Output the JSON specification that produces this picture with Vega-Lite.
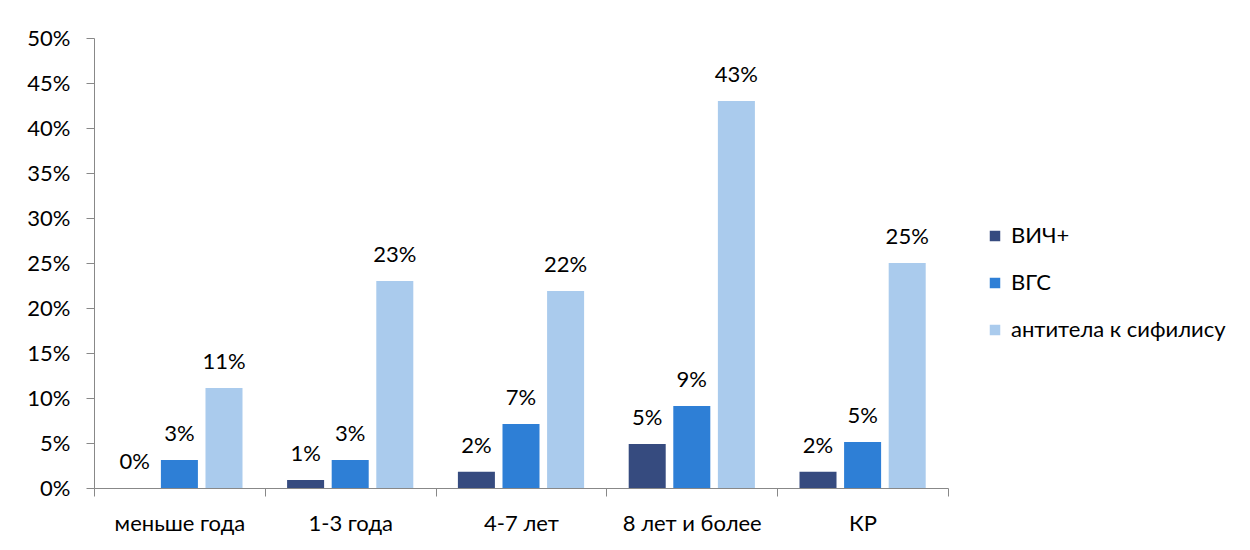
{
  "$schema": "https://vega.github.io/schema/vega-lite/v6.json",
  "autosize": {"type": "none"},
  "width": 854,
  "height": 450,
  "padding": {"left": 94, "top": 38, "right": 302, "bottom": 62},
  "background": "white",
  "config": {
    "view": {"stroke": null},
    "font": "Lato",
    "axis": {"labelFont": "Lato", "labelFontSize": 22, "labelColor": "#000000", "domainColor": "#888888", "tickColor": "#888888", "grid": false, "title": null, "tickSize": 8},
    "legend": {"labelFont": "Lato", "labelFontSize": 22, "labelColor": "#000000", "labelLimit": 400}
  },
  "data": {"values": [
    {"group": "меньше года", "series": "ВИЧ+", "value": 0.0},
    {"group": "меньше года", "series": "ВГС", "value": 0.031},
    {"group": "меньше года", "series": "антитела к сифилису", "value": 0.111},
    {"group": "1-3 года", "series": "ВИЧ+", "value": 0.009},
    {"group": "1-3 года", "series": "ВГС", "value": 0.031},
    {"group": "1-3 года", "series": "антитела к сифилису", "value": 0.23},
    {"group": "4-7 лет", "series": "ВИЧ+", "value": 0.018},
    {"group": "4-7 лет", "series": "ВГС", "value": 0.071},
    {"group": "4-7 лет", "series": "антитела к сифилису", "value": 0.219},
    {"group": "8 лет и более", "series": "ВИЧ+", "value": 0.049},
    {"group": "8 лет и более", "series": "ВГС", "value": 0.091},
    {"group": "8 лет и более", "series": "антитела к сифилису", "value": 0.43},
    {"group": "КР", "series": "ВИЧ+", "value": 0.018},
    {"group": "КР", "series": "ВГС", "value": 0.051},
    {"group": "КР", "series": "антитела к сифилису", "value": 0.25}
  ]},
  "encoding": {
    "x": {"field": "group", "type": "nominal", "sort": null,
      "scale": {"paddingInner": 0, "paddingOuter": 0},
      "axis": {"labelAngle": 0, "tickBand": "extent", "labelPadding": 17}},
    "xOffset": {"field": "series", "type": "nominal", "sort": ["ВИЧ+", "ВГС", "антитела к сифилису"],
      "scale": {"paddingInner": 0.17, "paddingOuter": 0.5}},
    "y": {"field": "value", "type": "quantitative",
      "scale": {"domain": [0, 0.5], "nice": false},
      "axis": {"format": ".0%", "values": [0, 0.05, 0.1, 0.15, 0.2, 0.25, 0.3, 0.35, 0.4, 0.45, 0.5], "labelPadding": 16}}
  },
  "layer": [
    {"mark": {"type": "bar"},
     "encoding": {
       "color": {"field": "series", "type": "nominal", "sort": ["ВИЧ+", "ВГС", "антитела к сифилису"],
         "scale": {"domain": ["ВИЧ+", "ВГС", "антитела к сифилису"], "range": ["#364B7F", "#2E7FD6", "#AACBED"]},
         "legend": {"title": null, "orient": "none", "legendX": 890, "legendY": 187, "symbolType": "square", "symbolSize": 110, "rowPadding": 25, "labelOffset": 5}}
     }},
    {"mark": {"type": "text", "baseline": "middle", "dy": -26, "fontSize": 22, "color": "#000000"},
     "encoding": {"text": {"field": "value", "type": "quantitative", "format": ".0%"}}}
  ]
}
